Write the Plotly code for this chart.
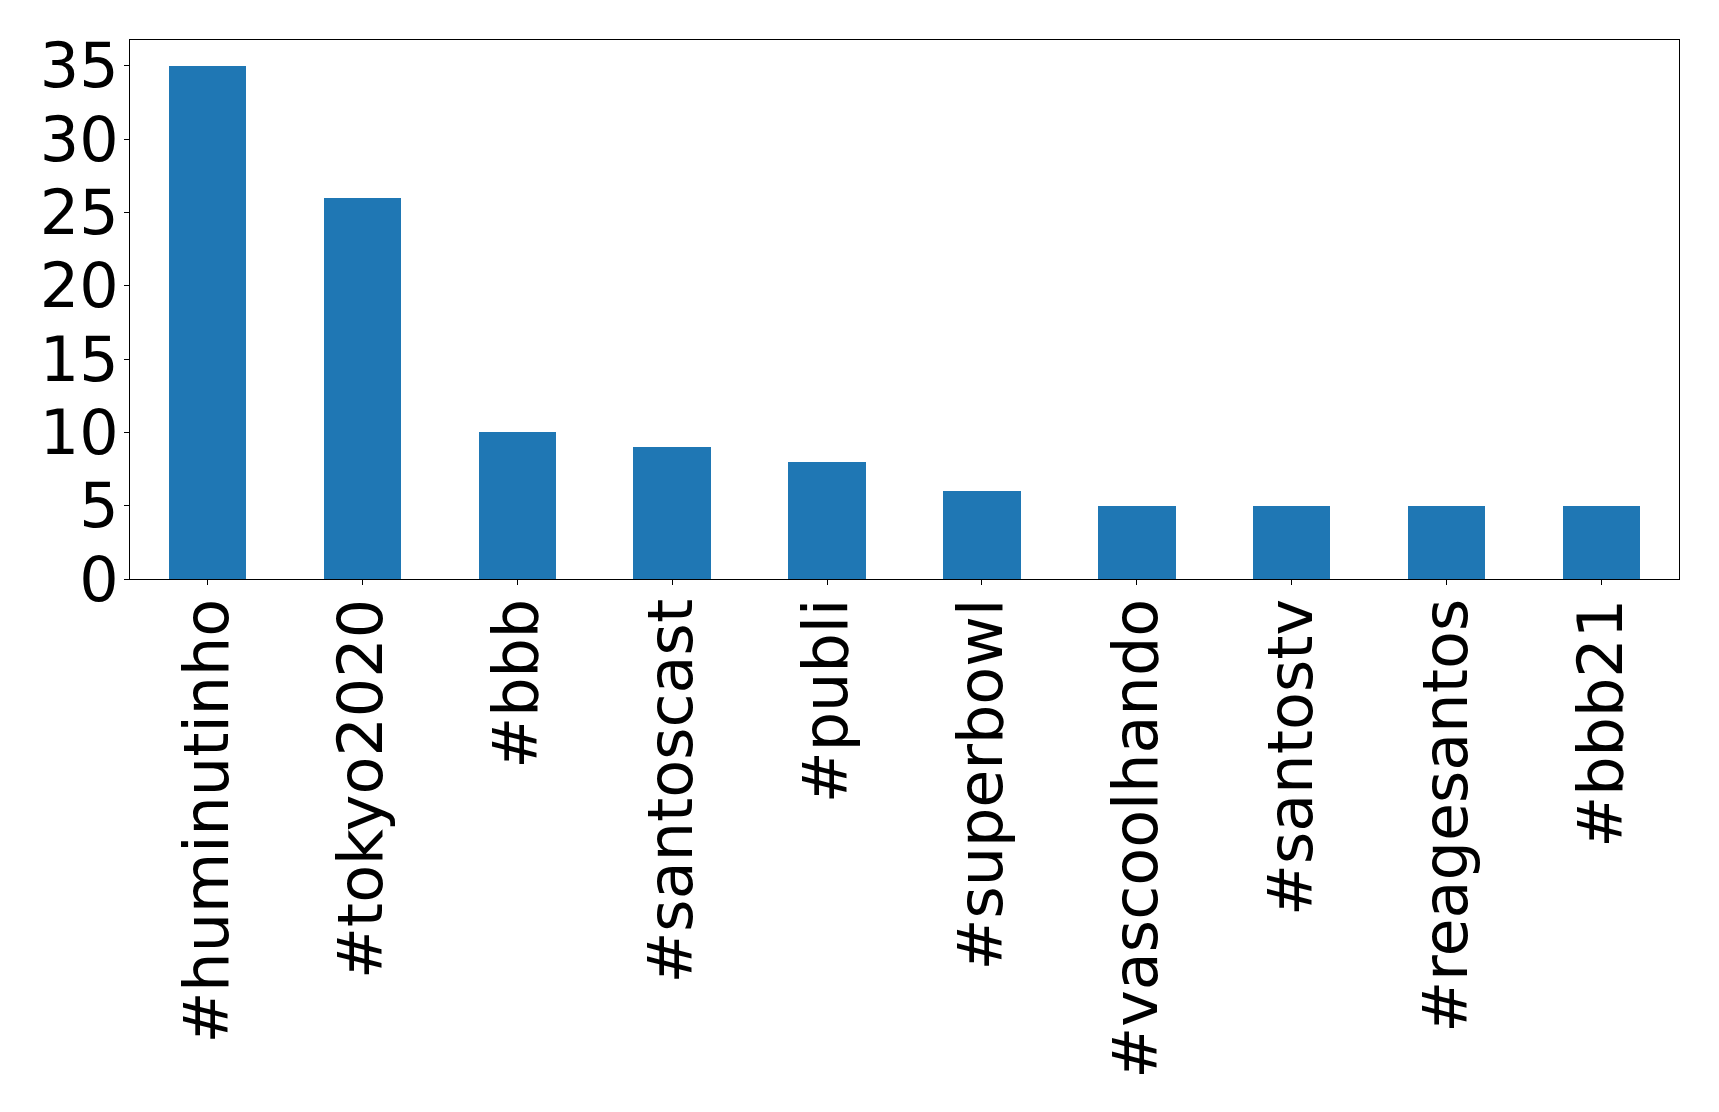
import plotly.graph_objects as go

categories = ["#huminutinho", "#tokyo2020", "#bbb", "#santoscast", "#publi",
              "#superbowl", "#vascoolhando", "#santostv", "#reagesantos", "#bbb21"]
counts = [35, 26, 10, 9, 8, 6, 5, 5, 5, 5]
y_ticks = [0, 5, 10, 15, 20, 25, 30, 35]

fig = go.Figure(go.Bar(x=list(range(len(categories))), y=counts, width=0.5,
                       marker=dict(color="#1f77b4", line=dict(width=0))))

font = dict(family="DejaVu Sans", size=62, color="black")
fig.update_layout(
    width=1711, height=1104,
    margin=dict(l=122, r=40, t=32, b=533, pad=0),
    plot_bgcolor="white", paper_bgcolor="white",
    showlegend=False, bargap=0,
    xaxis=dict(range=[-0.5, len(categories) - 0.5], tickmode="array",
               tickvals=list(range(len(categories))), ticktext=categories,
               tickangle=-90, ticks="outside", ticklen=5, tickwidth=1, tickcolor="black",
               ticklabelstandoff=-11,
               showline=True, linecolor="black", linewidth=1, mirror=True,
               showgrid=False, zeroline=False, tickfont=font),
    yaxis=dict(range=[0, 36.75], tickmode="array", tickvals=y_ticks,
               ticktext=[str(v) for v in y_ticks],
               ticks="outside", ticklen=5, tickwidth=1, tickcolor="black",
               ticklabelstandoff=-7,
               showline=True, linecolor="black", linewidth=1, mirror=True,
               showgrid=False, zeroline=False, tickfont=font),
)
fig.write_html("out.html")
